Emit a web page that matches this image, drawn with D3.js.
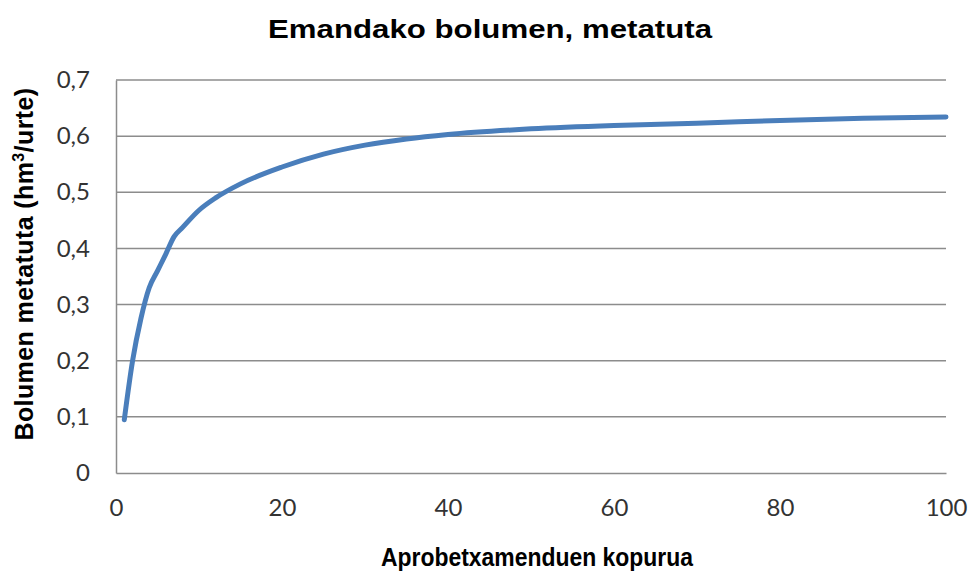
<!DOCTYPE html>
<html>
<head>
<meta charset="utf-8">
<script src="https://cdn.jsdelivr.net/npm/d3@7"></script>
<style>
  body { margin: 0; background: #fff; }
  .tick text { font-family: Lato, "Open Sans", sans-serif; font-size: 24px; fill: #333; }
  .ttl { font-family: "Liberation Sans", Arial, sans-serif; font-weight: bold; fill: #000; }
</style>
</head>
<body>
<script>
// data
const aprobetx = [1, 2, 3, 4, 5, 6, 7, 8, 10, 12, 15, 20, 25, 30, 35, 40, 50, 60, 70, 80, 90, 100];
const bolumen = [0.095, 0.2, 0.275, 0.33, 0.36, 0.39, 0.421, 0.437, 0.468, 0.49, 0.515, 0.545, 0.568, 0.584, 0.595, 0.603, 0.613, 0.619, 0.623, 0.628, 0.632, 0.634];
const xTicks = [0, 20, 40, 60, 80, 100];
const yTicks = [0, 0.1, 0.2, 0.3, 0.4, 0.5, 0.6, 0.7];

const data = aprobetx.map((d, i) => ({ x: d, y: bolumen[i] }));

const width = 970, height = 571;
const margin = { left: 116, right: 24, top: 80, bottom: 98 };

const svg = d3
  .select("body")
  .append("svg")
  .attr("width", width)
  .attr("height", height);

const x = d3.scaleLinear().domain([0, 100]).range([margin.left, width - margin.right]);
const y = d3.scaleLinear().domain([0, 0.7]).range([height - margin.bottom, margin.top]);

const fmt = (d) => (d === 0 ? "0" : d3.format(".1f")(d).replace(".", ","));

// gridlines
svg
  .append("g")
  .selectAll("line")
  .data(yTicks.slice(1))
  .enter()
  .append("line")
  .attr("x1", x(0))
  .attr("x2", x(100))
  .attr("y1", (d) => y(d))
  .attr("y2", (d) => y(d))
  .attr("stroke", "#8c8c8c")
  .attr("stroke-width", 1.5);

// y axis
const yAxis = svg
  .append("g")
  .attr("transform", `translate(${x(0)},0)`)
  .call(d3.axisLeft(y).tickValues(yTicks).tickFormat(fmt).tickSize(0).tickPadding(26));
yAxis.select(".domain").attr("stroke", "#8c8c8c").attr("stroke-width", 1.5);

// x axis
const xAxis = svg
  .append("g")
  .attr("transform", `translate(0,${y(0)})`)
  .call(d3.axisBottom(x).tickValues(xTicks).tickSize(0).tickPadding(26));
xAxis.select(".domain").attr("stroke", "#8c8c8c").attr("stroke-width", 1.5);

// line
const line = d3
  .line()
  .x((d) => x(d.x))
  .y((d) => y(d.y))
  .curve(d3.curveMonotoneX);

svg
  .append("path")
  .datum(data)
  .attr("d", line)
  .attr("fill", "none")
  .attr("stroke", "#4a7ebb")
  .attr("stroke-width", 5)
  .attr("stroke-linecap", "round")
  .attr("stroke-linejoin", "round");

// titles
svg
  .append("text")
  .attr("class", "ttl")
  .attr("x", 490)
  .attr("y", 38)
  .attr("text-anchor", "middle")
  .attr("font-size", 25)
  .attr("textLength", 444)
  .attr("lengthAdjust", "spacingAndGlyphs")
  .text("Emandako bolumen, metatuta");

svg
  .append("text")
  .attr("class", "ttl")
  .attr("x", 537)
  .attr("y", 566)
  .attr("text-anchor", "middle")
  .attr("font-size", 25)
  .attr("textLength", 312)
  .attr("lengthAdjust", "spacingAndGlyphs")
  .text("Aprobetxamenduen kopurua");

const yt = svg
  .append("text")
  .attr("class", "ttl")
  .attr("transform", "translate(33,264) rotate(-90)")
  .attr("text-anchor", "middle")
  .attr("font-size", 25)
  .attr("letter-spacing", 0.4);
yt.append("tspan").text("Bolumen metatuta (hm");
yt.append("tspan").attr("font-size", 16).attr("dy", -9).text("3");
yt.append("tspan").attr("dy", 9).text("/urte)");
</script>
</body>
</html>
